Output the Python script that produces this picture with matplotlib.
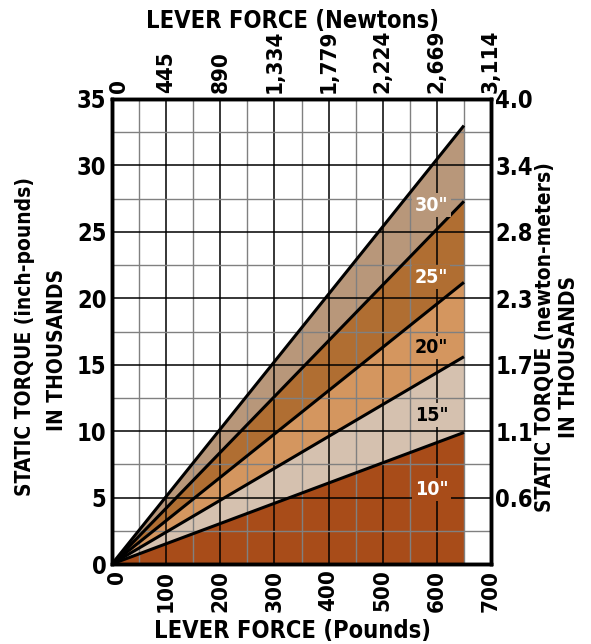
import matplotlib
matplotlib.use("Agg")
import matplotlib.pyplot as plt
import matplotlib.transforms as mtransforms
import numpy as np

plt.rcParams["font.family"] = ["DejaVu Sans"]
plt.rcParams["font.stretch"] = "condensed"
plt.rcParams["font.weight"] = "bold"

# lever lengths and torque (thousand inch-pounds) reached at the end force
LEVERS = ['10"', '15"', '20"', '25"', '30"']
END_FORCE = 650
END_TORQUE = [9.9, 15.6, 21.2, 27.3, 33.0]
BAND_COLORS = ["#a84c19", "#d5c1af", "#d4965f", "#b06e32", "#b8977a"]
LABEL_Y = [5.6, 11.2, 16.3, 21.6, 27.0]
LABEL_COLORS = ["white", "black", "black", "white", "white"]
LABEL_X = 590

POUND_TICKS = [0, 100, 200, 300, 400, 500, 600, 700]
NEWTON_LABELS = ["0", "445", "890", "1,334", "1,779", "2,224", "2,669", "3,114"]
INLB_TICKS = [0, 5, 10, 15, 20, 25, 30, 35]
NM_TICKS = [5, 10, 15, 20, 25, 30, 35]
NM_LABELS = ["0.6", "1.1", "1.7", "2.3", "2.8", "3.4", "4.0"]

W, H = 591, 644
fig = plt.figure(figsize=(W / 100, H / 100), dpi=100)
ax = fig.add_axes([112 / W, 1 - 564 / H, 379 / W, 465 / H])

x = np.array([0, END_FORCE])
prev = np.zeros(2)
for top, color in zip(END_TORQUE, BAND_COLORS):
    y = np.array([0, top])
    ax.fill_between(x, prev, y, color=color, lw=0, zorder=1)
    prev = y

# grid: black every 100 lb / 5k, grey in between
for gx in range(0, 701, 50):
    major = gx % 100 == 0
    ax.axvline(gx, color="black" if major else "#808080", lw=1.1 if major else 1.0, zorder=2)
for gy in np.arange(0, 35.1, 2.5):
    major = gy % 5 == 0
    ax.axhline(gy, color="black" if major else "#808080", lw=1.1 if major else 1.0, zorder=2)

for top in END_TORQUE:
    ax.plot(x, [0, top], color="black", lw=2.2, solid_capstyle="butt", zorder=3)

for lab, ly, lc, bc in zip(LEVERS, LABEL_Y, LABEL_COLORS, BAND_COLORS):
    ax.text(LABEL_X, ly, lab, color=lc, fontsize=14, ha="center", va="center", zorder=4,
            bbox=dict(boxstyle="square,pad=0.12", fc=bc, ec="none"))

ax.set_xlim(0, 700)
ax.set_ylim(0, 35)
ax.set_xticks(POUND_TICKS)
ax.set_xticklabels([str(t) for t in POUND_TICKS], rotation=90, fontsize=16)
ax.set_yticks(INLB_TICKS)
ax.set_yticklabels([str(t) for t in INLB_TICKS], fontsize=17)
ax.tick_params(axis="x", length=0, pad=4)
ax.tick_params(axis="y", length=0, pad=4)
for s in ax.spines.values():
    s.set_linewidth(2.4)
    s.set_zorder(5)

axt = ax.twiny()
axt.set_xlim(0, 700)
axt.set_xticks(POUND_TICKS)
axt.set_xticklabels(NEWTON_LABELS, rotation=90, fontsize=16)
axt.tick_params(length=0, pad=4)

axr = ax.twinx()
axr.set_ylim(0, 35)
axr.set_yticks(NM_TICKS)
axr.set_yticklabels(NM_LABELS, fontsize=17)
axr.tick_params(length=0, pad=3)
for a in (axt, axr):
    for s in a.spines.values():
        s.set_linewidth(2.4)

# the "0" labels sit a little right of the corner, clear of the y labels
for lbl, dx in ((ax.get_xticklabels()[0], 5), (axt.get_xticklabels()[0], 7)):
    lbl.set_transform(lbl.get_transform() + mtransforms.ScaledTranslation(dx / 100, 0, fig.dpi_scale_trans))

fig.text(292 / W, 1 - 21 / H, "LEVER FORCE (Newtons)", fontsize=17, ha="center", va="center")
fig.text(292 / W, 1 - 631 / H, "LEVER FORCE (Pounds)", fontsize=17, ha="center", va="center")
fig.text(25 / W, 1 - 337 / H, "STATIC TORQUE (inch-pounds)", fontsize=15, rotation=90,
         ha="center", va="center")
fig.text(57 / W, 1 - 350 / H, "IN THOUSANDS", fontsize=15, rotation=90, ha="center", va="center")
fig.text(545 / W, 1 - 337 / H, "STATIC TORQUE (newton-meters)", fontsize=15, rotation=90,
         ha="center", va="center")
fig.text(569 / W, 1 - 357 / H, "IN THOUSANDS", fontsize=15, rotation=90, ha="center", va="center")

fig.savefig("out.png", dpi=100)
